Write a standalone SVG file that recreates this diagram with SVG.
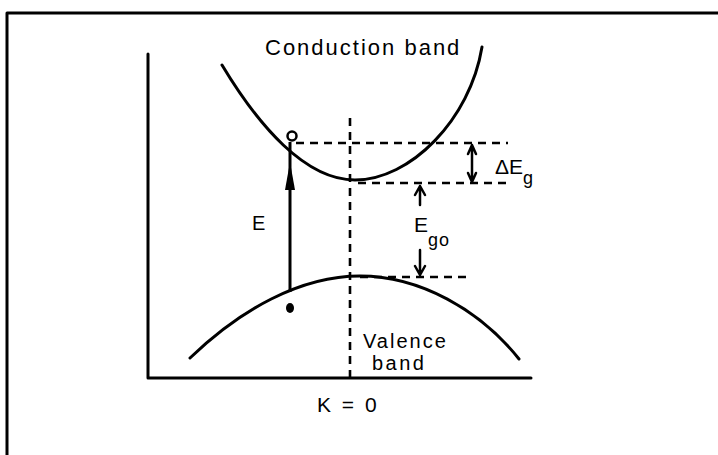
<svg xmlns="http://www.w3.org/2000/svg" width="718" height="455" viewBox="0 0 718 455">
<style>
.ln{stroke:#000;fill:none;stroke-width:3;stroke-linecap:round;stroke-linejoin:round}
.ds{stroke:#000;fill:none;stroke-width:2.6;stroke-dasharray:8 6}
.tx{font-family:"Liberation Sans",Arial,sans-serif;fill:#000}
.ar{stroke:#000;fill:none;stroke-width:2.5;stroke-linecap:round;stroke-linejoin:round}
</style>
<rect width="718" height="455" fill="#fff"/>
<g id="frame">
<path class="ln" d="M7,455 L7,13 L718,13"/>
</g>
<g id="axes">
<path class="ln" d="M148,54 L148,378 L531,378"/>
</g>
<g id="conduction-band">
<path class="ln" d="M222,65 C258,125 305,180 355,180 C410,180 470,120 482,47"/>
<text class="tx" x="265" y="55" font-size="22" letter-spacing="2">Conduction band</text>
</g>
<g id="valence-band">
<path class="ln" d="M190,358 C240,310 300,276 360,276 C420,276 480,310 519,359"/>
<text class="tx" x="363" y="348" font-size="20" letter-spacing="2">Valence</text>
<text class="tx" x="372" y="370" font-size="20" letter-spacing="2.5">band</text>
</g>
<g id="connectors">
<path class="ds" d="M350,118 L350,378"/>
<path class="ds" d="M296,143 L508,143"/>
<path class="ds" d="M358,183 L508,183"/>
<path class="ds" d="M360,277 L468,277"/>
<line x1="290" y1="292" x2="290" y2="142" stroke="#000" stroke-width="3"/>
<polygon points="290,162 285,190 295,190" fill="#000"/>
<path class="ar" d="M472,145 L472,182 M468,154 L472,145 L476,154 M468,173 L472,182 L476,173"/>
<path class="ar" d="M420,186 L420,205 M415,195 L420,186 L425,195"/>
<path class="ar" d="M420,250 L420,275 M415,266 L420,275 L425,266"/>
</g>
<g id="electron-hole">
<circle cx="292" cy="136" r="4.5" fill="#fff" stroke="#000" stroke-width="2.5"/>
<ellipse cx="290" cy="308" rx="4" ry="5" fill="#000"/>
</g>
<g id="labels">
<text class="tx" x="252" y="230" font-size="20">E</text>
<text class="tx" x="414" y="232" font-size="21">E<tspan font-size="18" dy="14" letter-spacing="1">go</tspan></text>
<text class="tx" x="495" y="174" font-size="21">ΔE<tspan font-size="18" dy="10">g</tspan></text>
<text class="tx" x="317" y="412" font-size="21" letter-spacing="2.5">K = 0</text>
</g>
</svg>
